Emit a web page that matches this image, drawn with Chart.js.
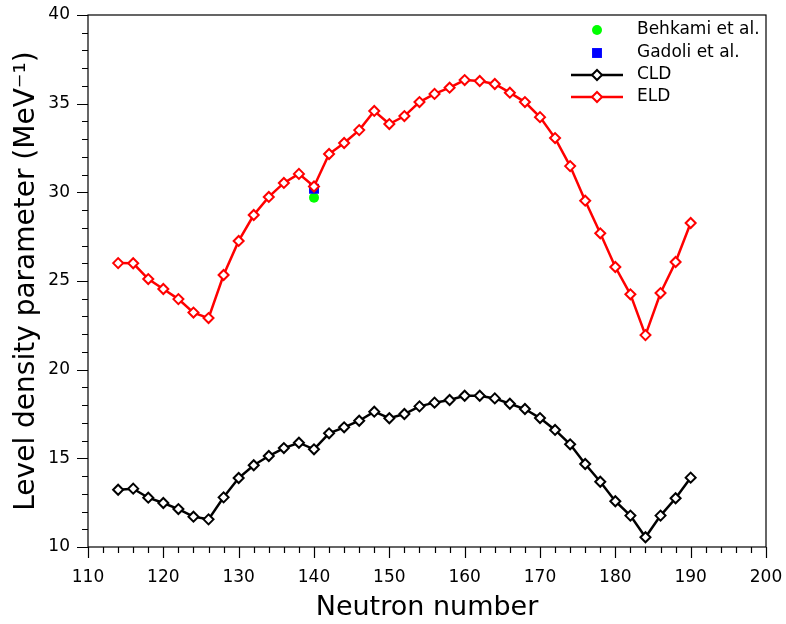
<!DOCTYPE html>
<html lang="en">
<head>
<meta charset="UTF-8">
<title>Level density parameter</title>
<script src="https://cdn.jsdelivr.net/npm/chart.js@4/dist/chart.umd.min.js"></script>
<style>
  html, body { margin: 0; padding: 0; background: #fff; }
  #wrap { width: 786px; height: 624px; }
</style>
</head>
<body>
<div id="wrap"><canvas id="chart" width="786" height="624"></canvas></div>
<script>
// neutron numbers (x)
const neutrons = [114, 116, 118, 120, 122, 124, 126, 128, 130, 132, 134, 136, 138, 140,
  142, 144, 146, 148, 150, 152, 154, 156, 158, 160, 162, 164, 166, 168, 170,
  172, 174, 176, 178, 180, 182, 184, 186, 188, 190];

// ELD values
const eld = [26.01, 26.0, 25.11, 24.55, 23.98, 23.22, 22.91, 25.34, 27.26, 28.72, 29.74, 30.53, 31.04, 30.33,
  32.16, 32.78, 33.51, 34.59, 33.85, 34.3, 35.09, 35.55, 35.9, 36.33, 36.28, 36.11, 35.62, 35.09, 34.24,
  33.06, 31.48, 29.53, 27.69, 25.79, 24.25, 21.95, 24.32, 26.07, 28.27];

// CLD values
const cld = [13.23, 13.29, 12.78, 12.48, 12.14, 11.71, 11.56, 12.8, 13.89, 14.61, 15.13, 15.58, 15.88, 15.51,
  16.41, 16.75, 17.12, 17.63, 17.26, 17.5, 17.93, 18.14, 18.29, 18.53, 18.53, 18.38, 18.08, 17.78, 17.27,
  16.6, 15.79, 14.68, 13.68, 12.58, 11.77, 10.55, 11.77, 12.75, 13.91];

// experimental points
const behkamiN = [140];
const behkami = [29.7];
const gadoliN = [140];
const gadoli = [30.2];

const toPts = (xs, ys) => xs.map((x, i) => ({x: x, y: ys[i]}));

// frame, minor/major ticks and legend
const framePlugin = {
  id: 'framePlugin',
  afterDraw(chart) {
    const ctx = chart.ctx;
    const a = chart.chartArea;
    const xs = chart.scales.x, ys = chart.scales.y;
    ctx.save();
    ctx.strokeStyle = '#000';
    ctx.lineWidth = 1.2;
    ctx.strokeRect(a.left, a.top, a.right - a.left, a.bottom - a.top);
    ctx.beginPath();
    for (let v = 110; v <= 200; v += 2) {
      const px = Math.round(xs.getPixelForValue(v)) + 0.5;
      const len = v % 10 === 0 ? 11 : 6;
      ctx.moveTo(px, a.bottom);
      ctx.lineTo(px, a.bottom + len);
    }
    for (let v = 10; v <= 40; v += 1) {
      const py = Math.round(ys.getPixelForValue(v)) + 0.5;
      const len = v % 5 === 0 ? 11 : 6;
      ctx.moveTo(a.left, py);
      ctx.lineTo(a.left - len, py);
    }
    ctx.stroke();

    // legend
    const lx = 571, lw = 52, tx = 637;
    const rows = [30, 53, 75, 97];
    ctx.font = '17px "DejaVu Sans"';
    ctx.textBaseline = 'middle';
    ctx.textAlign = 'left';
    const order = [2, 3, 1, 0];
    order.forEach((di, r) => {
      const ds = chart.data.datasets[di];
      const y = rows[r];
      if (ds.showLine) {
        ctx.strokeStyle = ds.borderColor;
        ctx.lineWidth = ds.borderWidth;
        ctx.beginPath();
        ctx.moveTo(lx, y);
        ctx.lineTo(lx + lw, y);
        ctx.stroke();
      }
      ctx.fillStyle = ds.pointBackgroundColor;
      ctx.strokeStyle = ds.pointBorderColor;
      ctx.lineWidth = ds.pointBorderWidth;
      Chart.helpers.drawPoint(ctx, {
        pointStyle: ds.pointStyle,
        radius: ds.pointRadius,
        rotation: 0,
        borderWidth: ds.pointBorderWidth
      }, lx + lw / 2, y);
      ctx.fillStyle = '#000';
      ctx.fillText(ds.label, tx, y);
    });
    ctx.restore();
  }
};

new Chart(document.getElementById('chart'), {
  type: 'scatter',
  data: {
    datasets: [
      {
        label: 'ELD',
        data: toPts(neutrons, eld),
        showLine: true,
        borderColor: '#ff0000',
        borderWidth: 2.5,
        pointStyle: 'rectRot',
        pointRadius: 5,
        pointBackgroundColor: '#ffffff',
        pointBorderColor: '#ff0000',
        pointBorderWidth: 2,
        order: 0
      },
      {
        label: 'CLD',
        data: toPts(neutrons, cld),
        showLine: true,
        borderColor: '#000000',
        borderWidth: 2.5,
        pointStyle: 'rectRot',
        pointRadius: 5,
        pointBackgroundColor: '#ffffff',
        pointBorderColor: '#000000',
        pointBorderWidth: 2,
        order: 1
      },
      {
        label: 'Behkami et al.',
        data: toPts(behkamiN, behkami),
        showLine: false,
        pointStyle: 'circle',
        pointRadius: 5,
        pointBackgroundColor: '#00ff00',
        pointBorderColor: '#00ff00',
        pointBorderWidth: 0,
        order: 3
      },
      {
        label: 'Gadoli et al.',
        data: toPts(gadoliN, gadoli),
        showLine: false,
        pointStyle: 'rect',
        pointRadius: 7,
        pointBackgroundColor: '#0000ff',
        pointBorderColor: '#0000ff',
        pointBorderWidth: 0,
        order: 2
      }
    ]
  },
  options: {
    responsive: false,
    animation: false,
    layout: { padding: { top: 15, right: 20, left: 0, bottom: 0 } },
    plugins: {
      legend: { display: false },
      tooltip: { enabled: false }
    },
    scales: {
      x: {
        type: 'linear',
        min: 110,
        max: 200,
        afterFit: s => { s.height = 77; s.paddingLeft = 0; s.paddingRight = 0; },
        grid: { display: false, drawTicks: false },
        border: { display: false },
        ticks: {
          stepSize: 10,
          padding: 20,
          color: '#000',
          font: { family: 'DejaVu Sans', size: 17 }
        },
        title: {
          display: true,
          text: 'Neutron number',
          color: '#000',
          font: { family: 'DejaVu Sans', size: 27, lineHeight: 1 },
          padding: { top: 0, bottom: 3 }
        }
      },
      y: {
        min: 10,
        max: 40,
        afterFit: s => { s.width = 88; s.paddingTop = 0; s.paddingBottom = 0; },
        grid: { display: false, drawTicks: false },
        border: { display: false },
        ticks: {
          stepSize: 5,
          padding: 18,
          color: '#000',
          font: { family: 'DejaVu Sans', size: 17 }
        },
        title: {
          display: true,
          text: 'Level density parameter (MeV\u207B\u00B9)',
          color: '#000',
          font: { family: 'DejaVu Sans', size: 28, lineHeight: 1 },
          padding: { top: 13, bottom: 0 }
        }
      }
    }
  },
  plugins: [framePlugin]
});
</script>
</body>
</html>
